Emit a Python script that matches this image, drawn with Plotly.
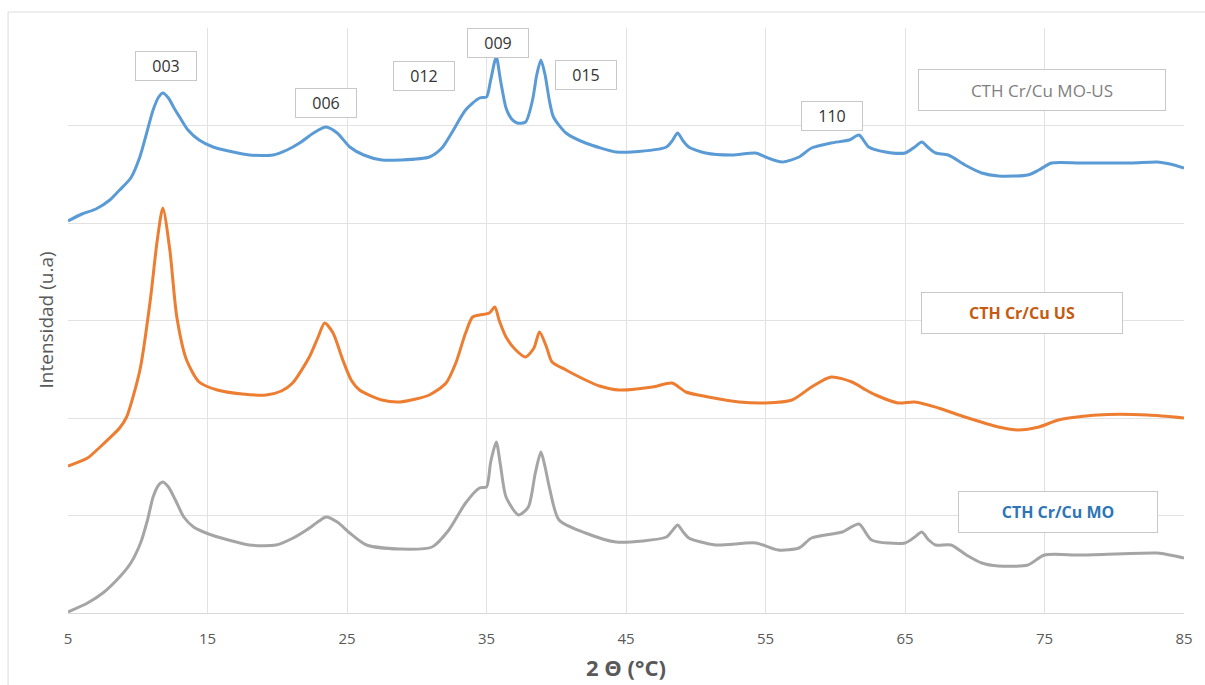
import plotly.graph_objects as go

# ---- data (2θ in degrees, intensity in arbitrary units) ----
x_mo_us = [5, 6, 7, 8, 8.7, 9.5, 10.15, 10.6, 11.1, 11.5, 11.8, 12.2, 12.6, 13.0, 13.6, 14.4, 15.4, 16.5, 18.0, 19.7,
           20.7, 21.6, 22.6, 23.5, 24.3, 25.2, 26.2, 27.5, 28.8, 30.9, 31.8, 32.5, 33.5, 34.5, 35.0, 35.3, 35.7, 36.0,
           36.4, 36.8, 37.2, 37.8, 38.3, 38.6, 38.9, 39.2, 39.5, 39.8, 40.7, 42.1, 44.3, 45.4, 47.9, 48.3, 48.7, 49.1,
           49.5, 50.7, 52.6, 54.3, 55.0, 56.2, 57.4, 58.3, 59.7, 61.0, 61.7, 62.4, 63.6, 65.0, 65.7, 66.2, 66.7, 67.2,
           68.1, 69.3, 70.5, 71.7, 73.8, 74.6, 75.5, 77.6, 81.2, 83.1, 84, 85]
y_mo_us = [392, 399, 404, 413, 423, 435, 456, 478, 503, 516, 520, 515, 505, 496, 483, 473, 466, 462, 458, 458,
           463, 470, 480, 486, 480, 466, 458, 453, 453, 456, 465, 480, 503, 515, 516, 533, 556, 533,
           505, 494, 490, 491, 513, 538, 553, 538, 513, 496, 480, 470, 461, 461, 466, 472, 480, 472,
           466, 460, 458, 460, 456, 451, 456, 465, 470, 473, 478, 466, 461, 460, 466, 471, 465, 460,
           458, 448, 440, 437, 438, 443, 450, 450, 450, 451, 449, 445]

x_us = [5, 6.4, 7.3, 8.7, 9.2, 9.7, 10.2, 10.9, 11.4, 11.8, 12.3, 12.8, 13.5, 14.4, 15.7, 17.5, 19.2, 20.3, 21.1,
        22.3, 22.9, 23.4, 24.0, 24.7, 25.3, 25.9, 27.5, 28.8, 30.9, 32.1, 32.8, 33.5, 34.0, 34.5, 35.2, 35.6, 35.9,
        36.4, 37.1, 37.8, 38.4, 38.8, 39.3, 39.7, 40.7, 42.1, 43.1, 44.5, 46.9, 48.3, 49.3, 50.9, 53.1, 55.0, 56.9,
        58.3, 59.7, 61.2, 62.2, 62.9, 64.5, 65.7, 67.4, 69.3, 71.7, 73.1, 74.6, 76.0, 78.8, 82.4, 85]
y_us = [147, 155, 166, 185, 196, 218, 246, 313, 373, 405, 363, 296, 253, 231, 223, 219, 218, 222, 230,
        256, 275, 290, 280, 253, 233, 223, 213, 211, 218, 230, 250, 280, 296, 298, 300, 306, 293,
        276, 263, 256, 265, 281, 266, 251, 243, 233, 227, 223, 226, 230, 221, 216, 211, 210, 213,
        226, 236, 231, 223, 218, 210, 211, 205, 196, 186, 183, 186, 193, 198, 198, 195]

x_mo = [5, 6.4, 7.5, 8.7, 9.5, 10.2, 10.7, 11.1, 11.5, 11.8, 12.2, 12.7, 13.3, 14.0, 14.9, 16.5, 18.0, 19.9, 21.0,
        22.1, 23.0, 23.5, 24.3, 25.2, 26.4, 28.8, 31.1, 32.3, 33.5, 34.5, 35.0, 35.3, 35.7, 36.0, 36.4, 37.3, 38.0,
        38.5, 38.9, 39.2, 39.5, 40.2, 42.1, 44.3, 47.9, 48.3, 48.7, 49.1, 49.5, 51.4, 54.3, 55.9, 57.4, 58.3, 60.5,
        61.7, 62.6, 65.0, 65.7, 66.2, 66.7, 67.2, 68.3, 69.4, 70.5, 71.7, 73.8, 75.0, 77.6, 83.1, 84, 85]
y_mo = [1, 10, 20, 36, 50, 70, 93, 116, 128, 131, 126, 113, 96, 86, 80, 73, 68, 68, 74,
        83, 92, 96, 91, 80, 68, 64, 66, 83, 110, 125, 126, 151, 171, 148, 116, 98, 106,
        140, 161, 146, 126, 93, 80, 71, 76, 82, 88, 81, 75, 68, 70, 63, 65, 75, 81,
        89, 73, 70, 76, 81, 73, 68, 68, 58, 50, 47, 48, 58, 58, 60, 58, 55]

x_ticks = [5, 15, 25, 35, 45, 55, 65, 75, 85]

peak_labels = ["003", "006", "012", "009", "015", "110"]
peak_x = [12.0, 23.5, 30.5, 35.8, 42.1, 59.75]
peak_y = [547, 510, 537, 570, 538, 497]

series_names = ["CTH Cr/Cu MO-US", "CTH Cr/Cu US", "CTH Cr/Cu MO"]
series_colors = ["#5b9bd5", "#ed7d31", "#a5a5a5"]
name_colors = ["#7f7f7f", "#c55a11", "#2e75b6"]
name_bold = [False, True, True]
name_width = [240, 194, 192]
name_x = [74.8, 73.4, 76.0]
name_y = [523, 300, 101]

GRID = "#e2e2e2"
TEXT = "#595959"

fig = go.Figure()
for xs, ys, nm, col in [(x_mo_us, y_mo_us, series_names[0], series_colors[0]),
                        (x_us, y_us, series_names[1], series_colors[1]),
                        (x_mo, y_mo, series_names[2], series_colors[2])]:
    fig.add_trace(go.Scatter(x=xs, y=ys, mode="lines", name=nm,
                             line=dict(color=col, width=3, shape="spline", smoothing=0.7)))

annotations = []
for lbl, px, py in zip(peak_labels, peak_x, peak_y):
    annotations.append(dict(x=px, y=py, xref="x", yref="y", text=lbl, showarrow=False,
                            font=dict(family="Open Sans", size=16, color="#333333"),
                            bordercolor="#c8c8c8", borderwidth=1, bgcolor="white",
                            width=58, height=26))
for nm, c, b, w, px, py in zip(series_names, name_colors, name_bold, name_width, name_x, name_y):
    annotations.append(dict(x=px, y=py, xref="x", yref="y",
                            text=("<b>" + nm + "</b>") if b else nm,
                            showarrow=False,
                            font=dict(family="Open Sans", size=17 if not b else 16, color=c),
                            bordercolor="#c8c8c8", borderwidth=1, bgcolor="white",
                            height=34, borderpad=3, width=w))

annotations.append(dict(x=0.5, y=-0.093, xref="paper", yref="paper", text="<b>2 Θ (°C)</b>",
                        showarrow=False, yanchor="middle",
                        font=dict(family="Open Sans", size=22, color=TEXT)))
annotations.append(dict(x=-0.0206, y=0.50, xref="paper", yref="paper", text="Intensidad (u.a)",
                        showarrow=False, textangle=-90, xanchor="center", yanchor="middle",
                        font=dict(family="Open Sans", size=19, color=TEXT)))

fig.update_layout(
    width=1205, height=685,
    margin=dict(l=68, r=19, t=28, b=72),
    paper_bgcolor="white", plot_bgcolor="white",
    showlegend=False,
    annotations=annotations,
    shapes=[dict(type="rect", xref="paper", yref="paper",
                 x0=(8 - 68) / 1118, x1=(1230 - 68) / 1118,
                 y0=(613 - 700) / 585, y1=(613 - 12) / 585,
                 line=dict(color="#dcdcdc", width=1), layer="below")],
    xaxis=dict(range=[5, 85], tickmode="array", tickvals=x_ticks,
               showgrid=True, gridcolor=GRID, gridwidth=1, zeroline=False,
               showline=True, linecolor="#d9d9d9", linewidth=1, ticks="",
               ticklabelstandoff=12,
               tickfont=dict(family="Open Sans", size=15, color=TEXT)),
    yaxis=dict(range=[0, 585], tick0=0, dtick=97.5, showticklabels=False,
               showgrid=True, gridcolor=GRID, gridwidth=1, zeroline=False,
               showline=False, ticks=""),
)

fig.write_html("out.html")
